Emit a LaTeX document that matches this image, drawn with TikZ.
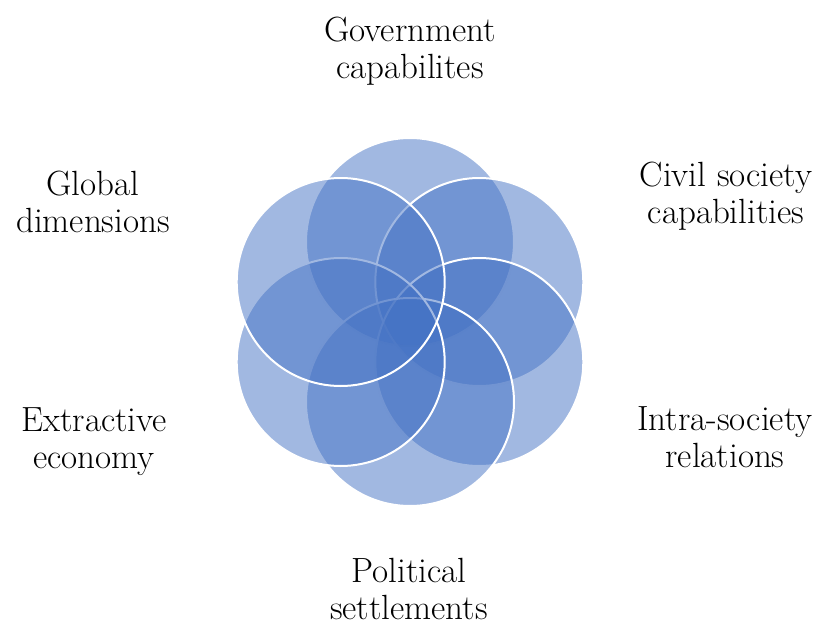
\documentclass[tikz,border=0pt]{standalone}
\usepackage{fontspec}
\definecolor{accent}{HTML}{4472C4}
\tikzset{
  petal/.style={circle, minimum size=208pt, inner sep=0pt, fill=accent,
    fill opacity=0.5, draw=white, draw opacity=1, line width=2pt},
  caption/.style={align=center, inner sep=0pt, text=black,
    font=\fontsize{35}{37}\selectfont}
}
\begin{document}
\begin{tikzpicture}[x=1pt, y=-1pt]
  \useasboundingbox (0,0) rectangle (817,626);
  % six overlapping circles around a common centre, clockwise from the top
  \node[petal] (gov)   at (410.0,242.0) {};
  \node[petal] (civil) at (479.3,282.0) {};
  \node[petal] (intra) at (479.3,362.0) {};
  \node[petal] (pol)   at (410.0,402.0) {};
  \node[petal] (extr)  at (340.7,362.0) {};
  \node[petal] (glob)  at (340.7,282.0) {};
  % captions
  \node[caption] (tgov)   at (410,53)  {\strut Government\\\strut capabilites};
  \node[caption] (tcivil) at (726,198) {\strut Civil society\\\strut capabilities};
  \node[caption] (tintra) at (725,442) {\strut Intra-society\\\strut relations};
  \node[caption] (tpol)   at (409,594) {\strut Political\\\strut settlements};
  \node[caption] (textr)  at (94,443)  {\strut Extractive\\\strut economy};
  \node[caption] (tglob)  at (93,207)  {\strut Global\\\strut dimensions};
\end{tikzpicture}
\end{document}
